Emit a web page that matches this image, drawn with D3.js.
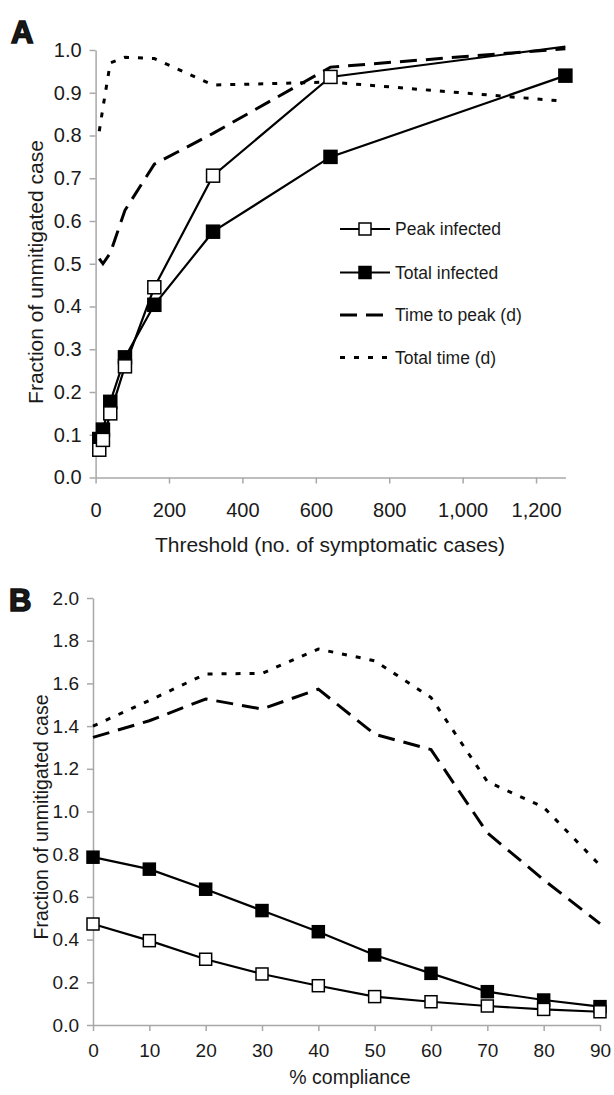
<!DOCTYPE html>
<html>
<head>
<meta charset="utf-8">
<script src="https://cdnjs.cloudflare.com/ajax/libs/d3/7.8.5/d3.min.js"></script>
<style>
  html, body { margin: 0; padding: 0; background: #fff; }
  svg { display: block; }
  text { font-family: "Liberation Sans", Arial, sans-serif; fill: #1a1a1a; }
</style>
</head>
<body>
<svg id="chart" width="614" height="1095"></svg>
<script>
// ---- Panel A: outcome vs. threshold for triggering intervention ----
const thresholds = [10, 20, 40, 80, 160, 320, 640, 1280];
const peakInfectedA = [0.065, 0.088, 0.15, 0.26, 0.445, 0.706, 0.937, 1.008];
const totalInfectedA = [0.09, 0.112, 0.177, 0.281, 0.404, 0.575, 0.75, 0.94];
const timeToPeakA = [0.512, 0.5, 0.525, 0.625, 0.733, 0.805, 0.96, 1.003];
const totalTimeA = [0.81, 0.865, 0.97, 0.983, 0.98, 0.918, 0.925, 0.88];
const xTicksA = [0, 200, 400, 600, 800, 1000, 1200];
const yTicksA = [0, 0.1, 0.2, 0.3, 0.4, 0.5, 0.6, 0.7, 0.8, 0.9, 1.0];

// ---- Panel B: outcome vs. % compliance ----
const compliance = [0, 10, 20, 30, 40, 50, 60, 70, 80, 90];
const peakInfectedB = [0.473, 0.395, 0.308, 0.239, 0.184, 0.133, 0.109, 0.089, 0.073, 0.062];
const totalInfectedB = [0.786, 0.73, 0.636, 0.536, 0.437, 0.328, 0.242, 0.156, 0.117, 0.086];
const timeToPeakB = [1.347, 1.425, 1.527, 1.48, 1.573, 1.362, 1.29, 0.9, 0.68, 0.475];
const totalTimeB = [1.40, 1.52, 1.644, 1.647, 1.761, 1.706, 1.534, 1.14, 1.02, 0.748];
const yTicksB = [0, 0.2, 0.4, 0.6, 0.8, 1.0, 1.2, 1.4, 1.6, 1.8, 2.0];

const legendLabels = ["Peak infected", "Total infected", "Time to peak (d)", "Total time (d)"];

const svg = d3.select("#chart");
const fmt1 = d3.format(".1f");
const AXIS_GREY = "#a8a8a8";

function styleAxis(g, fontSize) {
  g.select(".domain").attr("stroke", AXIS_GREY).attr("stroke-width", 1.5);
  g.selectAll(".tick line").attr("stroke", AXIS_GREY).attr("stroke-width", 1.5);
  g.selectAll(".tick text")
    .attr("font-size", fontSize)
    .attr("font-family", "Liberation Sans, Arial, sans-serif")
    .attr("fill", "#1a1a1a");
}

const styles = {
  peak:  { dash: null,    width: 2.2 },
  total: { dash: null,    width: 2.2 },
  ttp:   { dash: "17,9",  width: 3 },
  tt:    { dash: "5,9",   width: 3 }
};

function drawPanel(opt) {
  const g = svg.append("g");
  const x = opt.x, y = opt.y;

  // axes
  const xAxis = g.append("g")
    .attr("transform", `translate(0,${y.range()[0]})`)
    .call(d3.axisBottom(x).tickValues(opt.xTicks).tickFormat(opt.xFormat)
      .tickSizeInner(6).tickSizeOuter(0).tickPadding(opt.xPad));
  styleAxis(xAxis, opt.tickFont);
  const yAxis = g.append("g")
    .attr("transform", `translate(${x.range()[0]},0)`)
    .call(d3.axisLeft(y).tickValues(opt.yTicks).tickFormat(fmt1)
      .tickSizeInner(6).tickSizeOuter(0).tickPadding(8));
  styleAxis(yAxis, opt.tickFont);

  // axis titles
  g.append("text")
    .attr("x", opt.xTitleX).attr("y", opt.xTitleY)
    .attr("text-anchor", "middle").attr("font-size", opt.titleFont)
    .text(opt.xTitle);
  g.append("text")
    .attr("transform", `translate(${opt.yTitleX},${opt.yTitleY}) rotate(-90)`)
    .attr("text-anchor", "middle").attr("font-size", opt.titleFont)
    .text("Fraction of unmitigated case");

  // panel letter
  g.append("text")
    .attr("x", opt.letterX).attr("y", opt.letterY)
    .attr("font-family", "DejaVu Sans, sans-serif")
    .attr("font-weight", "bold").attr("font-size", 31)
    .attr("stroke", "#111").attr("stroke-width", 1.6)
    .attr("fill", "#111")
    .text(opt.letter);

  const lineOf = vals => d3.line()
    .x((d, i) => x(opt.xs[i]))
    .y(d => y(d))(vals);

  // dashed & dotted series
  [["tt", opt.tt], ["ttp", opt.ttp]].forEach(([k, vals]) => {
    g.append("path")
      .attr("d", lineOf(vals))
      .attr("fill", "none").attr("stroke", "#000")
      .attr("stroke-width", styles[k].width)
      .attr("stroke-dasharray", styles[k].dash);
  });

  // solid series with square markers
  [["total", opt.total], ["peak", opt.peak]].forEach(([k, vals]) => {
    g.append("path")
      .attr("d", lineOf(vals))
      .attr("fill", "none").attr("stroke", "#000")
      .attr("stroke-width", styles[k].width);
  });
  [["total", opt.total, "#000"], ["peak", opt.peak, "#fff"]].forEach(([k, vals, fill]) => {
    const s = opt.marker;
    g.selectAll(null)
      .data(vals.map((v, i) => ({ v, xv: opt.xs[i] })).filter(d => d.v <= y.domain()[1]))
      .enter().append("rect")
      .attr("x", d => x(d.xv) - s / 2)
      .attr("y", d => y(d.v) - s / 2)
      .attr("width", s).attr("height", s)
      .attr("fill", fill).attr("stroke", "#000").attr("stroke-width", 1.5);
  });
  return g;
}

// Panel A
const xA = d3.scaleLinear().domain([0, 1280]).range([95.6, 565.4]);
const yA = d3.scaleLinear().domain([0, 1]).range([477.5, 50]);
drawPanel({
  x: xA, y: yA, xs: thresholds,
  xTicks: xTicksA, xFormat: d3.format(","), yTicks: yTicksA,
  peak: peakInfectedA, total: totalInfectedA, ttp: timeToPeakA, tt: totalTimeA,
  marker: 13, tickFont: 20, titleFont: 21, xPad: 19,
  xTitle: "Threshold (no. of symptomatic cases)", xTitleX: 330, xTitleY: 552,
  yTitleX: 43, yTitleY: 272, letter: "A", letterX: 11, letterY: 43
});

// Legend (panel A)
const legendX = 340, legendW = 50, legendRows = [229, 272.5, 315, 357.5];
const legendKeys = ["peak", "total", "ttp", "tt"];
const lg = svg.append("g");
legendKeys.forEach((k, i) => {
  const yy = legendRows[i];
  lg.append("line")
    .attr("x1", legendX).attr("x2", legendX + legendW)
    .attr("y1", yy).attr("y2", yy)
    .attr("stroke", "#000").attr("stroke-width", styles[k].width)
    .attr("stroke-dasharray", styles[k].dash);
  if (k === "peak" || k === "total") {
    lg.append("rect")
      .attr("x", legendX + legendW / 2 - 6).attr("y", yy - 6)
      .attr("width", 12).attr("height", 12)
      .attr("fill", k === "peak" ? "#fff" : "#000")
      .attr("stroke", "#000").attr("stroke-width", 1.5);
  }
  lg.append("text")
    .attr("x", legendX + legendW + 5).attr("y", yy)
    .attr("dy", "0.36em").attr("font-size", 17.5)
    .text(legendLabels[i]);
});

// Panel B
const xB = d3.scaleLinear().domain([0, 90]).range([93, 600]);
const yB = d3.scaleLinear().domain([0, 2]).range([1025, 598]);
drawPanel({
  x: xB, y: yB, xs: compliance,
  xTicks: compliance, xFormat: d3.format("d"), yTicks: yTicksB,
  peak: peakInfectedB, total: totalInfectedB, ttp: timeToPeakB, tt: totalTimeB,
  marker: 12, tickFont: 19, titleFont: 19.5, xPad: 12.5,
  xTitle: "% compliance", xTitleX: 350, xTitleY: 1084,
  yTitleX: 48, yTitleY: 817, letter: "B", letterX: 9, letterY: 611
});
</script>
</body>
</html>
